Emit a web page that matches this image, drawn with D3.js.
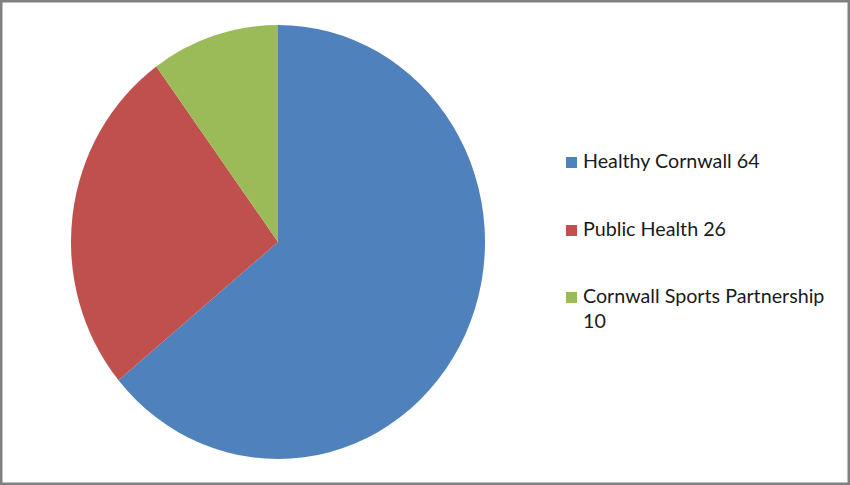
<!DOCTYPE html>
<html>
<head>
<meta charset="utf-8">
<script src="https://cdn.jsdelivr.net/npm/d3@7"></script>
<style>
  body { margin: 0; background: #fff; }
  svg { display: block; }
</style>
</head>
<body>
<script>
// Data
const categories = ["Healthy Cornwall", "Public Health", "Cornwall Sports Partnership"];
const values = [64, 26, 10];
const colours = ["#4F81BD", "#C0504D", "#9BBB59"];

const width = 850, height = 485;

const svg = d3.select("body")
    .append("svg")
    .attr("width", width)
    .attr("height", height);

// Outer frame
svg.append("rect")
    .attr("x", 1).attr("y", 1)
    .attr("width", width - 2).attr("height", height - 2)
    .attr("fill", "#fff")
    .attr("stroke", "#808080")
    .attr("stroke-width", 3);

// Pie (slightly stretched vertically like the source)
const rx = 207, ry = 217;
const pieG = svg.append("g")
    .attr("transform", `translate(278,242) scale(1,${ry / rx})`);

const pie = d3.pie().sort(null).value(d => d);
const arc = d3.arc().innerRadius(0).outerRadius(rx);

pieG.selectAll("path")
    .data(pie(values))
    .join("path")
    .attr("d", arc)
    .attr("fill", (d, i) => colours[i]);

// Legend
const legendRows = [
    { lines: [`${categories[0]} ${values[0]}`], y: 168 },
    { lines: [`${categories[1]} ${values[1]}`], y: 236 },
    { lines: [categories[2], `${values[2]}`], y: 303 }
];

const legend = svg.append("g");
legendRows.forEach((row, i) => {
    legend.append("rect")
        .attr("x", 566).attr("y", row.y - 11)
        .attr("width", 11).attr("height", 11)
        .attr("fill", colours[i]);
    const t = legend.append("text")
        .attr("x", 583).attr("y", row.y)
        .attr("font-family", "Lato, 'Open Sans', sans-serif")
        .attr("font-size", 19.7)
        .attr("fill", "#1a1a1a");
    row.lines.forEach((ln, j) => {
        t.append("tspan")
            .attr("x", 583)
            .attr("dy", j === 0 ? 0 : 25)
            .text(ln);
    });
});
</script>
</body>
</html>
